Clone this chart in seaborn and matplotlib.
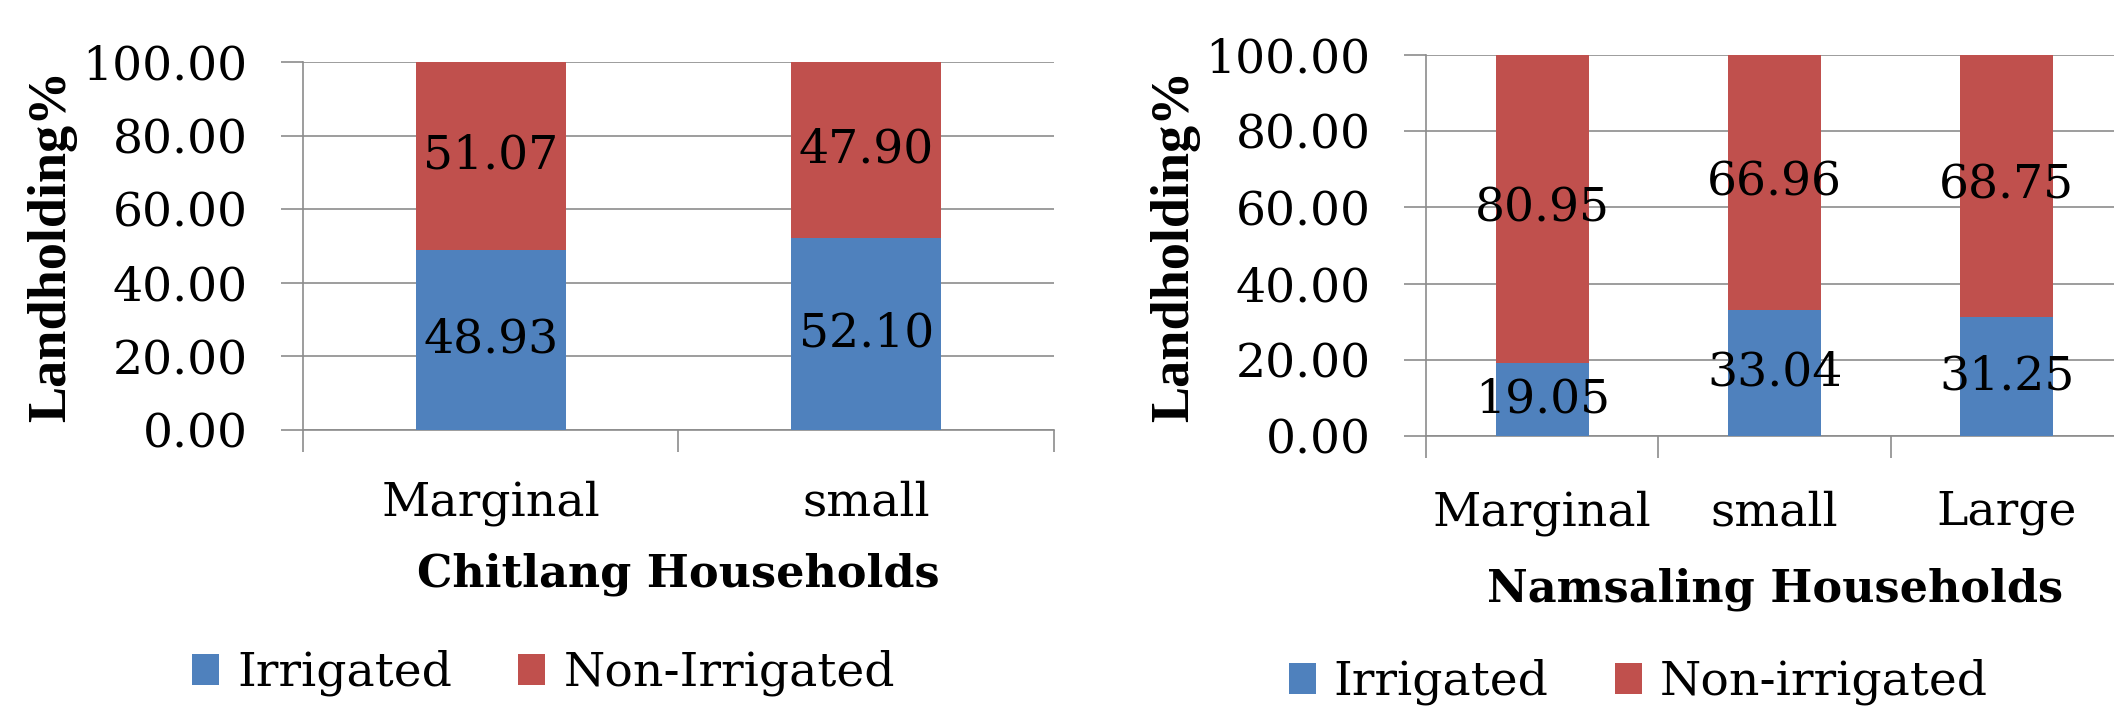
import numpy as np
import pandas as pd
import seaborn as sns
import matplotlib
matplotlib.use("Agg")
import matplotlib.pyplot as plt
from matplotlib.patches import Patch
from matplotlib.ticker import FixedLocator, FormatStrFormatter

sns.set_theme(style="white")
plt.rcParams["font.family"] = ["DejaVu Serif"]
plt.rcParams["text.color"] = "black"
plt.rcParams["axes.labelcolor"] = "black"

# Chitlang village
chitlang_cats = ["Marginal", "small"]
chitlang_irrigated = [48.93, 52.10]
chitlang_non_irrigated = [51.07, 47.90]

# Namsaling village
namsaling_cats = ["Marginal", "small", "Large"]
namsaling_irrigated = [19.05, 33.04, 31.25]
namsaling_non_irrigated = [80.95, 66.96, 68.75]

yticks = [0, 20, 40, 60, 80, 100]

BLUE = "#4F81BD"
RED = "#C0504D"
GRID = "#8C8C8C"
FS = 34

fig = plt.figure(figsize=(21.14, 7.13), dpi=100)
ax_l = fig.add_axes([0.1433, 0.3969, 0.3553, 0.5161])
ax_r = fig.add_axes([0.6746, 0.3885, 0.3297, 0.5344])


def stacked(ax, cats, irr, non, xlabel, legend_labels, legend_xy, ylab_x, xlab_y,
            xpad):
    top = [a + b for a, b in zip(irr, non)]
    df = pd.DataFrame({"cat": cats, "irr": irr, "top": top})
    sns.barplot(data=df, x="cat", y="top", color=RED, saturation=1,
                width=0.4, ax=ax, linewidth=0, zorder=3)
    sns.barplot(data=df, x="cat", y="irr", color=BLUE, saturation=1,
                width=0.4, ax=ax, linewidth=0, zorder=3)
    for i, (a, b) in enumerate(zip(irr, non)):
        ax.text(i, a / 2, f"{a:.2f}", ha="center", va="center",
                fontsize=FS, color="black", zorder=5)
        ax.text(i, a + b / 2, f"{b:.2f}", ha="center", va="center",
                fontsize=FS, color="black", zorder=5)
    n = len(cats)
    ax.set_xlim(-0.5, n - 0.5)
    ax.set_ylim(0, 100)
    ax.yaxis.set_major_locator(FixedLocator(yticks))
    ax.yaxis.set_major_formatter(FormatStrFormatter("%.2f"))
    ax.grid(axis="y", color=GRID, linewidth=1.2, zorder=0)
    ax.set_axisbelow(True)
    for s in ["top", "right"]:
        ax.spines[s].set_visible(False)
    for s in ["left", "bottom"]:
        ax.spines[s].set_color(GRID)
        ax.spines[s].set_linewidth(1.2)
    ax.set_xticks(np.arange(-0.5, n), minor=True)
    ax.tick_params(axis="x", which="minor", length=16, color=GRID, width=1.2,
                   direction="out", bottom=True)
    ax.tick_params(axis="x", which="major", length=0, pad=xpad, labelsize=FS,
                   labelcolor="black")
    ax.tick_params(axis="y", which="major", length=16, color=GRID, width=1.2,
                   direction="out", left=True, pad=24, labelsize=FS,
                   labelcolor="black")
    ax.set_ylabel("Landholding%", fontsize=39, fontweight="bold",
                  family=["Liberation Serif", "DejaVu Serif"])
    ax.yaxis.set_label_coords(ylab_x, 0.5)
    ax.set_xlabel(xlabel, fontsize=32, fontweight="bold")
    ax.xaxis.set_label_coords(0.5, xlab_y)
    handles = [Patch(facecolor=BLUE, edgecolor="none", label=legend_labels[0]),
               Patch(facecolor=RED, edgecolor="none", label=legend_labels[1])]
    fig.legend(handles=handles, loc="center", bbox_to_anchor=legend_xy, ncol=2,
               frameon=False, fontsize=FS, handlelength=0.58, handleheight=0.64,
               handletextpad=0.38, columnspacing=1.4)


stacked(ax_l, chitlang_cats, chitlang_irrigated, chitlang_non_irrigated,
        "Chitlang Households", ["Irrigated", "Non-Irrigated"], (0.257, 0.056),
        -0.301, -0.332, 36)
stacked(ax_r, namsaling_cats, namsaling_irrigated, namsaling_non_irrigated,
        "Namsaling Households", ["Irrigated", "Non-irrigated"], (0.775, 0.0435),
        -0.324, -0.344, 39)

fig.savefig("out.png", dpi=100, facecolor="white")
